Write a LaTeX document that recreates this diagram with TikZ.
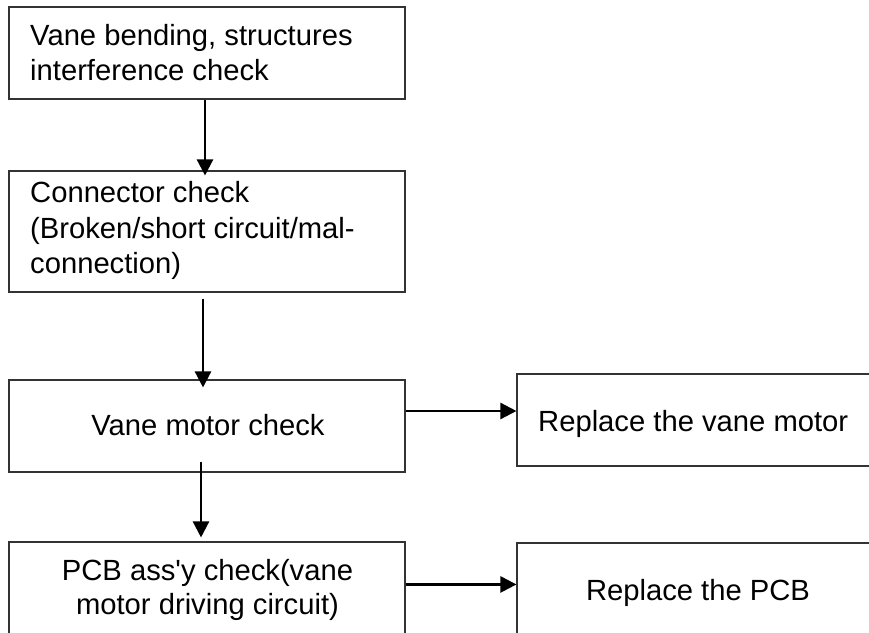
\documentclass[tikz,border=0pt]{standalone}
\usepackage{fontspec}
\setmainfont{Liberation Sans}[Ligatures=TeXOff]
\usetikzlibrary{arrows.meta}
\begin{document}
\begin{tikzpicture}[x=1pt,y=-1pt,
  box/.style={draw=black!80, line width=1.1pt, rectangle, inner sep=0pt},
  txt/.style={inner sep=0pt, font=\fontsize{29.2}{34}\selectfont},
  arr/.style={line width=2.4pt, -{Triangle[length=16pt,width=16pt]}}]
\useasboundingbox (0,0) rectangle (869,632);
\clip (0,0) rectangle (869,632);
% boxes
\node[box, minimum width=396pt, minimum height=92pt] (b1) at (207,53) {};
\node[box, minimum width=396pt, minimum height=121pt] (b2) at (207,231.5) {};
\node[box, minimum width=396pt, minimum height=92pt] (b3) at (207,426) {};
\node[box, minimum width=380pt, minimum height=92pt] (b4) at (707,420) {};
\node[box, minimum width=396pt, minimum height=118pt] (b5) at (207,601) {};
\node[box, minimum width=380pt, minimum height=118pt] (b6) at (707,602) {};
% texts
\node[txt, anchor=base west] (t1a) at (30,45) {Vane bending, structures};
\node[txt, anchor=base west] (t1b) at (30,80) {interference check};
\node[txt, anchor=base west] (t2a) at (30,202) {Connector check};
\node[txt, anchor=base west] (t2b) at (30,238) {(Broken/short circuit/mal-};
\node[txt, anchor=base west] (t2c) at (30,273) {connection)};
\node[txt, anchor=base] (t3) at (208,435) {Vane motor check};
\node[txt, anchor=base west] (t4) at (538,431) {Replace the vane motor};
\node[txt, anchor=base] (t5a) at (207.5,580) {PCB ass'y check(vane};
\node[txt, anchor=base] (t5b) at (207.5,614) {motor driving circuit)};
\node[txt, anchor=base] (t6) at (698,600) {Replace the PCB};
% arrows
\draw[arr] ([xshift=-2pt]b1.south) -- ([xshift=-2pt,yshift=-5pt]b2.north);
\draw[arr] ([xshift=-4pt,yshift=-6pt]b2.south) -- ([xshift=-4pt,yshift=-8pt]b3.north);
\draw[arr] ([xshift=-6pt,yshift=11pt]b3.south) -- ([xshift=-6pt,yshift=4pt]b5.north);
\draw[arr] ([yshift=15pt]b3.east) -- ([yshift=15pt]b3.east -| b4.west);
\draw[arr] ([yshift=-43pt]b5.north east) -- ([yshift=-43pt]b5.north east -| b6.west);
\end{tikzpicture}
\end{document}
